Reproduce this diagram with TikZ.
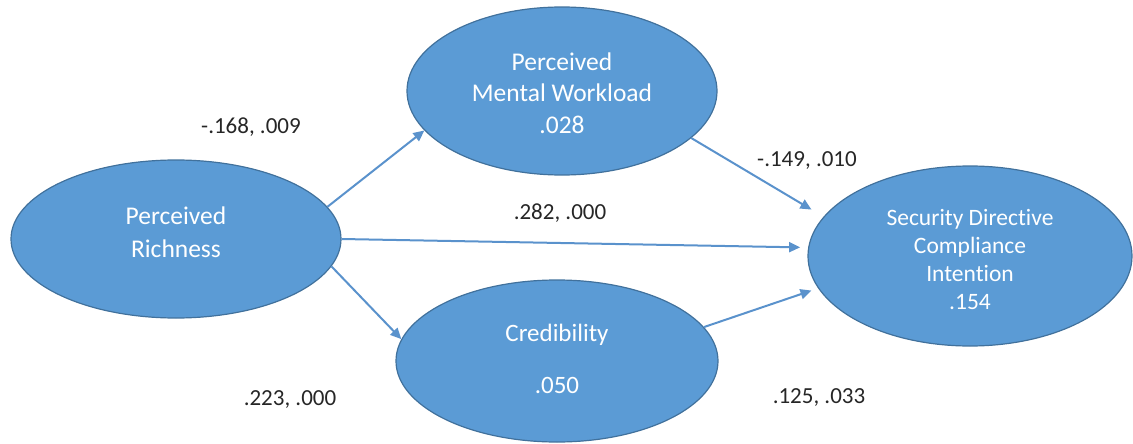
\documentclass[tikz,border=0pt]{standalone}
\usepackage{fontspec}
\setmainfont{Carlito}[Ligatures=NoCommon]
\usetikzlibrary{shapes.geometric,arrows.meta}
\definecolor{fillblue}{HTML}{5B9BD5}
\definecolor{edgeblue}{HTML}{41719C}
\definecolor{arrowblue}{HTML}{5A92CC}
\begin{document}
\begin{tikzpicture}[x=1pt,y=-1pt,
  latent/.style={ellipse, draw=edgeblue, line width=1.2pt, fill=fillblue, inner sep=0pt},
  inner/.style={text=white, align=center, inner sep=0pt},
  path/.style={draw=arrowblue, line width=2pt, -{Triangle[length=11pt,width=10pt]}},
  coef/.style={font=\fontsize{23}{28}\selectfont, text=black!85, inner sep=0pt}
]
\useasboundingbox (0,0) rectangle (1133,444);

% latent constructs
\node[latent, minimum width=330pt, minimum height=158pt] (pr)   at (176,239) {};
\node[latent, minimum width=310pt, minimum height=168pt] (pmw)  at (562,91)  {};
\node[latent, minimum width=322pt, minimum height=162pt] (cred) at (557,361) {};
\node[latent, minimum width=324pt, minimum height=180pt] (sdci) at (970,256) {};

% construct names and R-squared values
\node[inner, font=\fontsize{25.5}{33}\selectfont] (prtext) at ([yshift=7pt]pr.center) {Perceived\\Richness};
\node[inner, font=\fontsize{25.5}{31.5}\selectfont] (pmwtext) at ([yshift=-2pt]pmw.center) {Perceived\\Mental Workload\\.028};
\node[inner, font=\fontsize{25}{26}\selectfont] (credtext) at ([yshift=2pt]cred.center) {Credibility\\[26pt].050};
\node[inner, font=\fontsize{23.5}{28}\selectfont] (sdcitext) at ([yshift=-4pt]sdci.center) {Security Directive\\Compliance\\Intention\\.154};

% structural paths
\draw[path] (pr.12) -- (pmw.196);
\draw[path, shorten >=8pt] (pr.east) -- (sdci.177);
\draw[path] (pr.-10) -- (cred.172);
\draw[path, shorten >=14pt] (pmw.-20) -- (sdci.165);
\draw[path, shorten >=7pt] (cred.13) -- (sdci.192);

% path coefficients and p-values
\node[coef] (c1) at (251,127) {-.168, .009};
\node[coef] (c2) at (807,161) {-.149, .010};
\node[coef] (c3) at (560,213) {.282, .000};
\node[coef] (c4) at (290,400) {.223, .000};
\node[coef] (c5) at (819,398) {.125, .033};
\end{tikzpicture}
\end{document}
